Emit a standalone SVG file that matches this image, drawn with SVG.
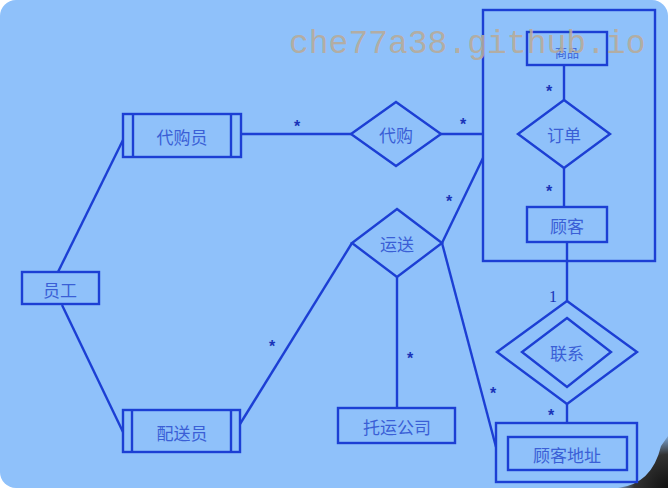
<svg xmlns="http://www.w3.org/2000/svg" width="668" height="488" viewBox="0 0 668 488">
  <defs>
    <style>
      .ln { stroke: #1c3fd4; stroke-width: 2.4; fill: none; }
      .box { stroke: #1c3fd4; stroke-width: 2.4; fill: none; }
      .lbl { font-family: "Noto Sans CJK SC", "Noto Sans", sans-serif; font-size: 17px; fill: #3a5fd6; text-anchor: middle; dominant-baseline: central; }
      .mul { font-family: "Liberation Sans", sans-serif; font-size: 16px; font-weight: bold; fill: #1a34b8; text-anchor: middle; }
      .one { font-family: "Liberation Serif", serif; font-size: 16px; fill: #1a34b8; text-anchor: middle; }
      .wm { font-family: "Liberation Mono", "DejaVu Sans Mono", monospace; font-size: 33px; fill: #b8ab98; fill-opacity: 0.9; }
    </style>
    <radialGradient id="shade" cx="668" cy="488" r="56" gradientUnits="userSpaceOnUse">
      <stop offset="0" stop-color="#111"/>
      <stop offset="0.6" stop-color="#333"/>
      <stop offset="1" stop-color="#333" stop-opacity="0"/>
    </radialGradient>
  </defs>

  <!-- page -->
  <rect x="0" y="0" width="668" height="488" fill="#ffffff"/>
  <rect x="0" y="0" width="668" height="488" rx="16" fill="#8fc1fa"/>
  <path d="M668 436 L668 488 L618 488 Q652 484 661 446 Z" fill="url(#shade)"/>

  <!-- connectors -->
  <g id="connectors">
    <line class="ln" x1="58" y1="272" x2="123" y2="140"/>
    <line class="ln" x1="62" y1="305" x2="123" y2="432"/>
    <line class="ln" x1="241" y1="134" x2="351" y2="134"/>
    <line class="ln" x1="441" y1="134" x2="483" y2="134"/>
    <line class="ln" x1="442" y1="243" x2="483" y2="158"/>
    <line class="ln" x1="352" y1="243" x2="240" y2="424"/>
    <line class="ln" x1="397" y1="277" x2="397" y2="408"/>
    <line class="ln" x1="442" y1="243" x2="496" y2="447"/>
    <line class="ln" x1="564" y1="65" x2="564" y2="100"/>
    <line class="ln" x1="564" y1="168" x2="564" y2="207"/>
    <line class="ln" x1="567" y1="242" x2="567" y2="301"/>
    <line class="ln" x1="567" y1="404" x2="567" y2="423"/>
    <text class="mul" x="297" y="132">*</text>
    <text class="mul" x="463" y="130">*</text>
    <text class="mul" x="449" y="207">*</text>
    <text class="mul" x="272" y="352">*</text>
    <text class="mul" x="410" y="364">*</text>
    <text class="mul" x="493" y="399">*</text>
    <text class="mul" x="549" y="97">*</text>
    <text class="mul" x="549" y="197">*</text>
    <text class="mul" x="551" y="421">*</text>
    <text class="one" x="553" y="302">1</text>
  </g>

  <!-- aggregate frame -->
  <g id="aggregate">
    <rect class="box" x="483" y="10" width="172" height="251"/>
  </g>

  <g id="goods">
    <rect class="box" x="527" y="32" width="80" height="33"/>
    <text class="lbl" x="567" y="52" style="font-size:12px">商品</text>
  </g>

  <g id="order">
    <polygon class="box" points="564,100 610,134 564,168 518,134"/>
    <text class="lbl" x="564" y="134">订单</text>
  </g>

  <g id="customer">
    <rect class="box" x="527" y="207" width="80" height="35"/>
    <text class="lbl" x="567" y="225">顾客</text>
  </g>

  <g id="link">
    <polygon class="box" points="567,301 637,352 567,404 497,352"/>
    <polygon class="box" points="567,318 611,352 567,387 522,352"/>
    <text class="lbl" x="567" y="352">联系</text>
  </g>

  <g id="address">
    <rect class="box" x="496" y="423" width="141" height="59"/>
    <rect class="box" x="508" y="437" width="119" height="33"/>
    <text class="lbl" x="567" y="454">顾客地址</text>
  </g>

  <g id="purchase">
    <polygon class="box" points="396,102 441,134 396,166 351,134"/>
    <text class="lbl" x="396" y="134">代购</text>
  </g>

  <g id="delivery">
    <polygon class="box" points="397,209 442,243 397,277 352,243"/>
    <text class="lbl" x="397" y="243">运送</text>
  </g>

  <g id="buyer">
    <rect class="box" x="123" y="114" width="118" height="43"/>
    <line class="ln" x1="133" y1="114" x2="133" y2="157"/>
    <line class="ln" x1="231" y1="114" x2="231" y2="157"/>
    <text class="lbl" x="182" y="136">代购员</text>
  </g>

  <g id="courier">
    <rect class="box" x="123" y="410" width="117" height="42"/>
    <line class="ln" x1="132" y1="410" x2="132" y2="452"/>
    <line class="ln" x1="231" y1="410" x2="231" y2="452"/>
    <text class="lbl" x="182" y="432">配送员</text>
  </g>

  <g id="carrier">
    <rect class="box" x="338" y="408" width="117" height="35"/>
    <text class="lbl" x="397" y="426">托运公司</text>
  </g>

  <g id="staff">
    <rect class="box" x="22" y="272" width="77" height="32"/>
    <text class="lbl" x="60" y="289">员工</text>
  </g>

  <text class="wm" x="289" y="53">che77a38.github.io</text>
</svg>
